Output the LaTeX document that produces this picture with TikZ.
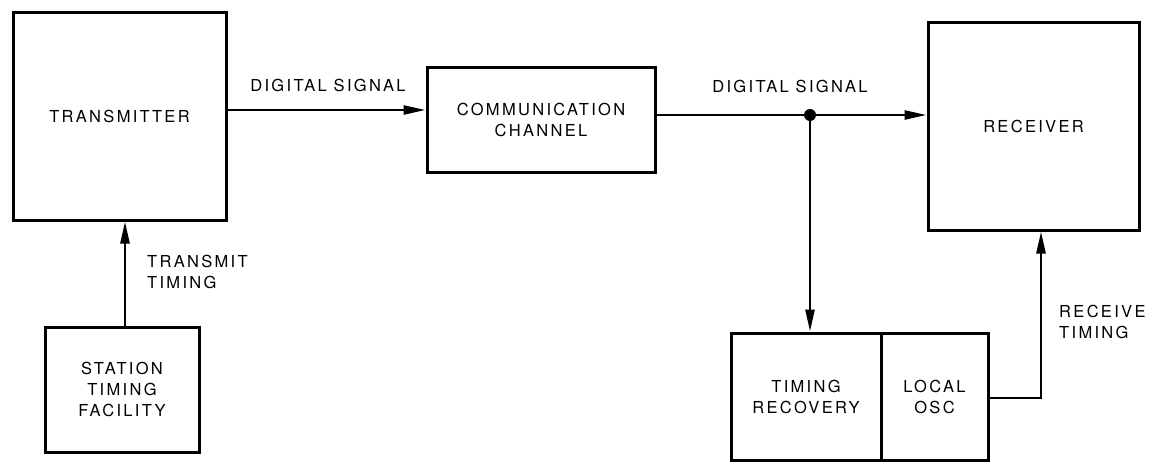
\documentclass[tikz,border=0pt]{standalone}
\usepackage{fontspec}
\setmainfont{TeX Gyre Heros}[LetterSpace=14]
\usetikzlibrary{arrows.meta}

\begin{document}
\begin{tikzpicture}[x=1pt,y=-1pt,
  txt/.style={font=\fontsize{16.5}{21}\selectfont},
  box/.style={txt, draw, line width=3pt, rectangle, align=center, inner sep=0pt},
  lbl/.style={txt, align=left, inner sep=0pt},
  wire/.style={line width=2.6pt},
  arr/.style={wire, -{Triangle[length=22pt,width=9pt]}},
]
\useasboundingbox (0,0) rectangle (1151,464);
\fill[white] (0,0) rectangle (1151,464);

% blocks
\node[box, minimum width=213pt, minimum height=208pt] (tx) at (119.5,116) {TRANSMITTER};
\node[box, minimum width=228pt, minimum height=105pt] (ch) at (541,119.5) {COMMUNICATION\\CHANNEL};
\node[box, minimum width=211pt, minimum height=208pt] (rx) at (1033.5,126) {RECEIVER};
\node[box, minimum width=154pt, minimum height=125pt] (st) at (122,389.5) {STATION\\TIMING\\FACILITY};
\node[box, minimum width=150pt, minimum height=127pt] (tr) at (806,396.5) {TIMING\\RECOVERY};
\node[box, minimum width=107pt, minimum height=127pt] (lo) at (934.5,396.5) {LOCAL\\OSC};

% labels
\node[lbl] (ds1) at (328,85) {DIGITAL SIGNAL};
\node[lbl] (ds2) at (790,86) {DIGITAL SIGNAL};
\node[lbl, anchor=west] (tt) at (147,272) {TRANSMIT\\TIMING};
\node[lbl, anchor=west] (rt) at (1059,322) {RECEIVE\\TIMING};

% junction and bend points
\coordinate (j) at (810,115);
\coordinate (bend) at (1041,398);

% signal path
\draw[arr] ([yshift=6pt]tx.east) -- ([yshift=6pt]tx.east -| ch.west);
\draw[wire] ([yshift=4.5pt]ch.east) -- (j);
\draw[arr] (j) -- (j -| rx.west);
\draw[arr] (j) -- (j |- tr.north);
\fill (j) circle (6pt);

% timing paths
\draw[arr] ([xshift=3pt]st.north) -- ([xshift=3pt]st.north |- tx.south);
\draw[arr] (lo.east |- bend) -- (bend) -- (bend |- rx.south);
\end{tikzpicture}
\end{document}
